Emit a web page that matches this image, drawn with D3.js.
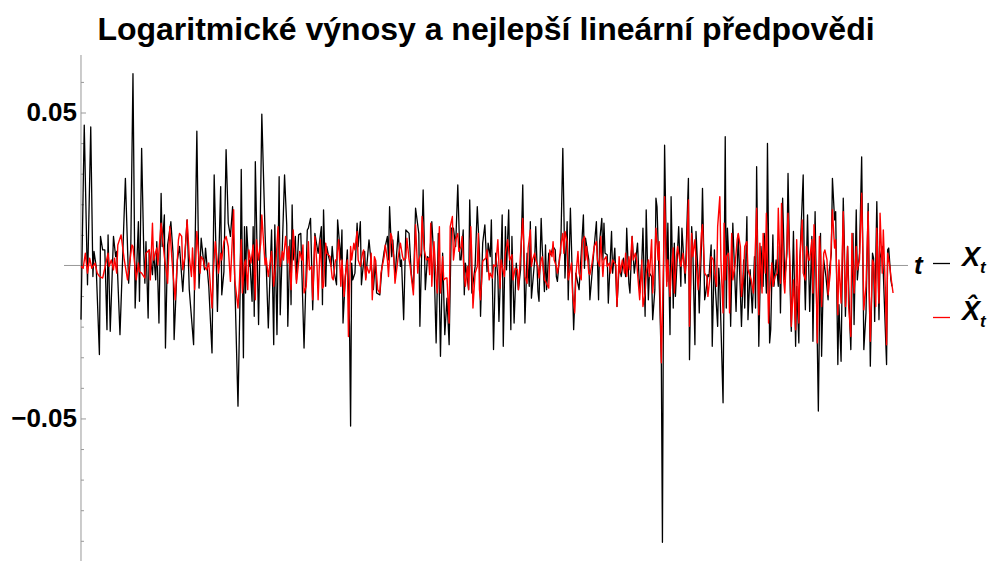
<!DOCTYPE html>
<html>
<head>
<meta charset="utf-8">
<script src="https://cdn.jsdelivr.net/npm/d3@7"></script>
<style>
  body { margin: 0; background: #fff; }
  svg { display: block; }
</style>
</head>
<body>
<svg id="chart" width="994" height="563"></svg>
<script>
// day index of each point and its log return
var tX = [0,3,6,9,11,12,14,17,18,20,22,24,25,27,30,32,33,36,41,44,46,48,50,53,54,56,58,59,60,62,63,66,67,69,70,72,74,75,77,78,80,83,85,86,89,91,94,96,98,100,104,107,109,111,114,115,118,121,123,126,129,130,132,134,136,138,140,142,145,147,148,150,151,152,153,155,156,158,159,160,161,164,165,167,170,171,173,175,176,178,179,181,183,184,188,190,191,193,194,195,196,198,199,201,203,206,209,210,212,214,216,219,222,223,224,226,227,229,231,232,234,236,237,240,241,242,244,246,248,249,250,251,253,255,256,258,259,260,262,263,266,268,270,272,273,276,278,280,281,283,284,285,287,288,290,293,295,296,298,300,303,305,307,309,312,313,316,318,320,322,324,326,328,330,332,334,336,338,340,342,344,346,348,350,351,353,354,355,358,359,361,364,366,368,369,371,373,375,376,378,379,381,383,385,386,388,389,390,392,393,395,397,398,400,402,404,406,408,410,412,414,415,416,419,420,422,423,425,426,428,429,430,432,434,436,438,439,440,442,443,445,447,449,450,452,453,455,457,460,462,464,465,466,469,470,472,474,476,478,479,481,482,483,484,486,487,490,491,493,495,497,499,501,503,504,506,507,509,511,513,514,516,518,519,521,522,524,525,527,528,530,531,532,534,536,537,538,539,541,542,544,545,547,548,549,550,552,554,555,558,559,561,562,564,565,567,568,570,571,573,574,576,577,579,580,582,583,585,586,588,589,590,593,595,596,597,599,600,602,605,607,609,610,612,613,615,616,618,620,622,623,624,626,628,630,631,633,634,636,637,639,640,642,644,645,646,648,650,652,653,655,656,658,660,661,663,664,667,668,669,671,673,675,676,678,679,680,681,683,684,686,688,690,691,693,694,696,697,699,700,702,704,705,706,708,710,711,713,714,716,717,719,721,722,723,725,727,728,729,731,732,733,735,737,738,740,741,744,745,746,748,749];
var X = [-0.0177,0.0459,-0.0063,0.0453,-0.0036,0.0046,-0.0003,-0.0291,0.0095,0.0051,0.0051,-0.0210,0.0100,-0.0215,0.0095,0.0029,0.0046,-0.0226,0.0285,-0.0058,0.0062,0.0627,-0.0139,0.0143,-0.0117,0.0383,0.0040,-0.0058,0.0078,-0.0172,0.0051,-0.0030,0.0046,-0.0047,0.0078,-0.0188,0.0236,0.0062,0.0165,-0.0270,0.0067,0.0143,0.0040,-0.0242,0.0018,0.0062,-0.0085,0.0040,0.0149,-0.0079,-0.0259,0.0439,-0.0074,0.0089,-0.0014,0.0057,-0.0068,-0.0286,0.0296,-0.0150,0.0258,-0.0096,-0.0020,0.0379,0.0138,0.0095,0.0192,-0.0047,-0.0460,-0.0079,0.0314,-0.0302,0.0127,-0.0090,0.0127,-0.0003,0.0018,-0.0117,0.0127,-0.0166,0.0339,-0.0193,0.0008,0.0495,0.0105,0.0008,-0.0204,0.0018,0.0116,-0.0259,0.0133,-0.0226,0.0290,-0.0161,0.0296,0.0133,-0.0199,0.0084,-0.0128,0.0198,0.0018,0.0095,-0.0047,0.0100,0.0105,-0.0270,0.0116,0.0122,0.0154,-0.0145,0.0105,0.0040,0.0127,-0.0128,0.0182,-0.0068,0.0062,0.0024,-0.0003,0.0062,-0.0025,-0.0063,0.0149,0.0018,0.0116,-0.0188,-0.0047,0.0051,-0.0199,-0.0525,0.0008,-0.0047,-0.0025,0.0138,0.0062,0.0143,-0.0063,-0.0025,0.0046,-0.0041,0.0084,0.0008,-0.0079,0.0018,-0.0090,-0.0096,-0.0003,0.0046,0.0062,0.0095,0.0018,0.0192,0.0029,0.0084,-0.0036,0.0111,-0.0003,0.0018,-0.0177,0.0116,0.0105,-0.0025,-0.0079,0.0187,0.0105,-0.0199,0.0247,-0.0079,0.0029,0.0018,0.0143,0.0018,-0.0253,0.0105,-0.0297,0.0040,-0.0226,-0.0107,-0.0259,0.0122,0.0122,0.0062,0.0263,0.0018,0.0018,0.0116,-0.0096,0.0008,-0.0079,0.0214,-0.0090,-0.0003,0.0192,0.0040,-0.0166,0.0073,0.0133,-0.0020,0.0073,0.0029,0.0149,-0.0275,0.0040,-0.0036,-0.0183,0.0029,0.0165,-0.0264,0.0127,-0.0014,0.0182,-0.0210,0.0095,-0.0188,0.0008,-0.0079,-0.0014,0.0263,-0.0188,0.0040,-0.0068,0.0143,-0.0107,0.0018,0.0127,-0.0085,-0.0117,0.0154,0.0057,-0.0085,0.0067,-0.0079,0.0040,0.0035,0.0062,0.0051,-0.0036,-0.0052,0.0029,0.0040,0.0383,-0.0041,0.0143,-0.0112,0.0187,0.0062,-0.0210,-0.0025,-0.0079,0.0040,0.0165,-0.0009,0.0089,0.0018,-0.0112,-0.0025,0.0062,0.0143,-0.0112,0.0078,0.0154,0.0018,0.0138,0.0040,0.0035,-0.0123,0.0111,-0.0025,0.0057,-0.0134,-0.0003,-0.0036,0.0024,-0.0036,0.0122,-0.0058,-0.0090,0.0095,-0.0025,0.0040,0.0073,-0.0090,0.0018,0.0122,-0.0166,0.0182,-0.0112,-0.0025,-0.0036,-0.0177,-0.0079,0.0220,0.0192,-0.0047,-0.0324,-0.0905,-0.0052,0.0393,-0.0052,0.0138,-0.0226,0.0225,-0.0139,0.0073,-0.0101,-0.0025,0.0127,-0.0068,0.0122,-0.0058,0.0062,0.0285,-0.0308,0.0127,0.0062,-0.0259,0.0111,-0.0036,-0.0155,0.0062,0.0252,-0.0112,-0.0090,-0.0030,-0.0036,0.0067,-0.0264,0.0051,-0.0079,-0.0199,-0.0009,-0.0063,-0.0449,0.0421,-0.0139,0.0122,-0.0025,-0.0199,0.0138,-0.0150,0.0100,-0.0090,-0.0199,0.0018,-0.0139,0.0160,-0.0177,-0.0014,-0.0155,0.0029,-0.0139,0.0323,-0.0264,0.0062,-0.0068,0.0105,-0.0090,0.0399,-0.0253,-0.0210,0.0100,-0.0068,0.0018,-0.0068,0.0062,-0.0155,0.0220,-0.0047,0.0040,0.0301,-0.0079,-0.0215,0.0111,-0.0264,-0.0068,-0.0253,0.0024,0.0296,-0.0003,-0.0145,0.0165,-0.0150,0.0095,-0.0248,0.0176,-0.0047,-0.0248,-0.0476,0.0105,-0.0297,0.0018,-0.0036,-0.0112,-0.0020,0.0040,0.0285,0.0149,0.0176,-0.0324,-0.0128,-0.0313,0.0220,0.0073,-0.0166,0.0062,-0.0188,-0.0275,0.0105,-0.0193,0.0182,-0.0047,0.0040,0.0355,0.0062,-0.0275,-0.0155,0.0203,-0.0068,-0.0329,0.0040,0.0024,-0.0183,0.0209,-0.0177,0.0024,0.0062,-0.0025,-0.0324,0.0051,0.0057,-0.0047,-0.0068];

// best linear predictions
var tHat = [0,2,4,6,8,10,13,15,17,20,22,25,26,28,30,31,33,34,37,40,43,47,48,51,53,54,56,59,60,63,64,66,67,70,71,74,77,79,80,82,84,87,90,91,93,94,96,98,100,102,103,105,107,110,111,113,114,116,118,121,122,124,127,129,130,132,134,136,138,141,142,145,146,148,149,151,152,154,155,157,159,161,162,164,166,167,170,171,173,175,176,178,180,182,184,186,187,189,191,192,194,196,199,202,204,205,206,208,210,211,213,214,216,218,219,221,223,224,226,227,230,232,233,235,236,238,240,241,243,244,246,247,249,250,252,253,255,256,258,260,261,263,264,266,267,268,269,271,272,274,276,277,280,281,283,284,286,287,289,290,293,295,297,298,300,301,303,304,307,309,311,312,314,315,317,319,321,322,323,324,326,328,329,331,332,334,335,337,338,340,341,343,344,346,348,349,351,352,354,355,357,358,360,361,362,364,366,367,368,369,371,372,374,375,377,378,380,381,383,385,387,388,389,391,392,394,396,398,399,401,403,404,406,408,410,412,413,415,416,417,419,420,422,423,425,426,428,429,432,433,435,436,437,439,440,442,443,445,446,447,449,450,453,454,456,457,459,460,462,463,465,466,467,469,470,472,474,476,477,479,480,482,483,485,486,488,489,491,494,495,497,498,500,502,503,504,506,507,509,510,512,513,514,516,518,519,521,522,524,525,527,528,530,531,533,534,536,538,539,541,542,544,545,547,548,550,551,553,554,556,558,559,561,562,564,565,567,568,570,571,573,574,576,578,579,581,582,584,585,587,588,590,591,593,594,595,596,598,599,601,602,604,606,607,609,610,612,613,615,616,618,619,621,622,624,626,627,629,630,632,633,635,636,638,639,641,643,644,646,647,649,650,652,653,655,656,658,660,661,663,664,666,667,669,670,672,673,675,676,677,679,680,682,683,684,686,687,689,690,692,694,696,697,699,700,702,704,705,706,708,709,711,712,714,716,717,719,721,722,723,725,727,728,729,731,732,734,735,737,738,740,741,743,744,745,747,748,750];
var Xhat = [-0.0003,-0.0009,0.0040,-0.0025,0.0024,-0.0009,0.0008,-0.0025,-0.0036,-0.0041,-0.0009,0.0040,-0.0003,0.0018,-0.0014,0.0024,-0.0025,0.0067,0.0100,0.0018,-0.0047,0.0067,0.0062,-0.0047,0.0008,-0.0020,-0.0025,-0.0041,0.0040,0.0051,-0.0047,0.0138,0.0018,0.0057,0.0002,0.0138,0.0029,-0.0025,-0.0058,0.0127,0.0018,-0.0112,0.0084,0.0105,0.0095,-0.0014,0.0029,0.0149,0.0029,-0.0036,0.0057,-0.0079,0.0111,-0.0025,0.0029,0.0018,-0.0003,-0.0014,0.0008,-0.0139,-0.0036,0.0078,-0.0025,0.0040,0.0018,0.0078,0.0095,0.0062,-0.0052,0.0182,-0.0047,-0.0139,-0.0079,0.0084,-0.0090,0.0008,0.0018,-0.0079,0.0051,0.0008,0.0067,-0.0112,0.0084,0.0018,0.0073,0.0165,0.0002,0.0024,-0.0036,0.0018,0.0046,-0.0068,0.0008,0.0127,-0.0003,0.0046,0.0018,0.0095,0.0008,0.0062,-0.0079,0.0116,-0.0058,0.0046,0.0018,0.0067,-0.0090,-0.0068,0.0078,-0.0014,-0.0003,-0.0112,0.0095,-0.0003,-0.0112,0.0084,-0.0074,-0.0068,0.0073,0.0040,0.0029,-0.0041,-0.0047,0.0018,0.0018,0.0084,-0.0068,0.0018,-0.0101,-0.0036,0.0018,-0.0232,0.0062,0.0018,0.0073,0.0051,0.0111,0.0018,-0.0003,0.0040,0.0051,-0.0047,-0.0003,-0.0025,-0.0014,0.0040,-0.0112,0.0029,0.0018,-0.0079,-0.0090,-0.0025,0.0029,0.0067,0.0018,-0.0036,0.0105,0.0095,0.0018,-0.0058,0.0029,0.0073,0.0029,0.0018,0.0024,0.0089,0.0018,-0.0003,-0.0096,0.0133,-0.0025,0.0018,0.0040,0.0160,0.0051,0.0018,0.0024,-0.0030,0.0138,-0.0068,0.0078,-0.0047,-0.0090,0.0127,-0.0090,0.0029,-0.0047,-0.0041,-0.0041,-0.0188,0.0127,0.0160,0.0018,0.0084,0.0105,0.0046,0.0062,0.0095,-0.0036,-0.0068,-0.0003,-0.0079,0.0127,0.0018,-0.0139,-0.0025,-0.0003,0.0105,-0.0079,-0.0112,0.0013,0.0018,0.0024,0.0051,-0.0047,-0.0025,-0.0041,0.0002,-0.0003,0.0084,-0.0074,0.0018,-0.0003,-0.0036,0.0040,0.0084,0.0018,0.0035,-0.0047,-0.0009,-0.0014,-0.0079,0.0040,0.0154,-0.0036,-0.0058,0.0057,0.0116,-0.0003,0.0018,0.0040,0.0018,-0.0003,-0.0041,0.0018,0.0029,-0.0047,-0.0052,-0.0074,0.0051,0.0029,0.0078,0.0018,-0.0003,-0.0025,0.0018,0.0062,0.0105,0.0040,0.0111,0.0078,-0.0047,0.0008,-0.0090,-0.0155,-0.0036,0.0046,-0.0025,-0.0047,0.0078,0.0095,0.0018,0.0062,-0.0025,-0.0030,0.0008,0.0062,0.0078,0.0018,-0.0003,0.0095,-0.0036,0.0018,0.0029,-0.0003,0.0008,-0.0025,0.0018,0.0002,-0.0134,0.0029,-0.0025,0.0018,-0.0025,0.0040,-0.0036,0.0029,-0.0014,0.0095,0.0018,0.0040,0.0024,-0.0025,-0.0112,0.0018,-0.0134,-0.0090,-0.0025,0.0018,-0.0036,0.0084,-0.0090,0.0018,0.0122,0.0018,0.0078,-0.0318,0.0018,0.0225,-0.0068,0.0018,-0.0101,-0.0025,0.0057,-0.0090,0.0029,0.0062,0.0018,-0.0003,0.0040,-0.0025,0.0008,0.0214,-0.0199,0.0105,0.0029,0.0084,0.0018,-0.0079,-0.0036,0.0105,0.0133,-0.0025,-0.0036,-0.0101,-0.0036,0.0029,0.0018,-0.0025,-0.0068,0.0127,0.0225,0.0018,-0.0155,0.0138,-0.0047,0.0029,0.0040,-0.0155,0.0105,-0.0047,-0.0003,0.0084,0.0105,0.0062,-0.0101,-0.0025,0.0062,0.0078,-0.0014,-0.0036,-0.0047,-0.0090,-0.0025,0.0187,-0.0161,0.0073,-0.0090,0.0105,-0.0025,0.0171,-0.0188,-0.0090,0.0008,-0.0068,-0.0036,-0.0025,0.0187,-0.0058,0.0203,-0.0047,-0.0090,0.0073,0.0171,-0.0025,-0.0199,-0.0047,-0.0210,0.0084,-0.0188,0.0018,0.0149,-0.0025,-0.0047,0.0062,0.0018,0.0018,0.0084,-0.0090,0.0133,-0.0047,-0.0253,0.0095,0.0040,-0.0134,0.0040,0.0051,0.0018,-0.0096,-0.0025,0.0182,0.0057,0.0084,-0.0161,0.0018,-0.0123,0.0176,0.0018,-0.0134,0.0062,-0.0134,-0.0232,0.0105,-0.0090,0.0062,-0.0014,0.0018,0.0236,0.0062,-0.0145,-0.0068,0.0176,-0.0090,-0.0248,0.0018,0.0008,-0.0134,0.0122,-0.0123,0.0171,-0.0025,0.0116,-0.0090,-0.0259,0.0040,-0.0003,-0.0036,-0.0090];

var majorTicks = [-0.05, 0.05];
var minorTicks = [-0.09, -0.08, -0.07, -0.06, -0.04, -0.03, -0.02, -0.01, 0.01, 0.02, 0.03, 0.04, 0.06];

var titleText = "Logaritmické výnosy a nejlepší lineární předpovědi";

var svg = d3.select("#chart");
var font = "'Liberation Sans', Arial, sans-serif";

var x = d3.scaleLinear().domain([-15.7, 763.8]).range([64, 908]);
var y = d3.scaleLinear().domain([-0.0966, 0.0688]).range([561, 55]);

var seriesX = tX.map(function(t, i) { return {t: t, v: X[i]}; });
var seriesHat = tHat.map(function(t, i) { return {t: t, v: Xhat[i]}; });

// axes
svg.append("line")
  .attr("x1", x(-15.7)).attr("x2", x(763.8))
  .attr("y1", y(0)).attr("y2", y(0))
  .attr("stroke", "#999").attr("stroke-width", 1);
svg.append("line")
  .attr("x1", x(0)).attr("x2", x(0))
  .attr("y1", y(0.0688)).attr("y2", y(-0.0966))
  .attr("stroke", "#999").attr("stroke-width", 1);

var minorAxis = d3.axisLeft(y).tickValues(minorTicks).tickSize(-3).tickFormat("");
svg.append("g").attr("transform", "translate(" + x(0) + ",0)").call(minorAxis)
  .call(function(g) { g.select(".domain").remove(); g.selectAll("line").attr("stroke", "#999"); });

var majorAxis = d3.axisLeft(y).tickValues(majorTicks).tickSize(-5).tickPadding(4)
  .tickFormat(d3.format(".2f"));
svg.append("g").attr("transform", "translate(" + x(0) + ",0)").call(majorAxis)
  .call(function(g) {
    g.select(".domain").remove();
    g.selectAll("line").attr("stroke", "#999");
    g.selectAll("text").attr("font-family", font).attr("font-weight", "bold")
      .attr("font-size", 26).attr("fill", "#000");
  });

// series
var line = d3.line().x(function(d) { return x(d.t); }).y(function(d) { return y(d.v); });
svg.append("path").datum(seriesX).attr("d", line)
  .attr("fill", "none").attr("stroke", "#000").attr("stroke-width", 1.3).attr("stroke-linejoin", "round");
svg.append("path").datum(seriesHat).attr("d", line)
  .attr("fill", "none").attr("stroke", "#ff0000").attr("stroke-width", 1.4).attr("stroke-linejoin", "round");

// title
svg.append("text").attr("x", 486).attr("y", 40).attr("text-anchor", "middle")
  .attr("font-family", font).attr("font-weight", "bold").attr("font-size", 32)
  .text(titleText);

// axis label t
svg.append("text").attr("x", 914).attr("y", 274)
  .attr("font-family", font).attr("font-weight", "bold").attr("font-style", "italic")
  .attr("font-size", 26).text("t");

// legend
var legend = [
  {color: "#000", label: "X", y: 263.5},
  {color: "#ff0000", label: "X\u0302", y: 317.5}
];
legend.forEach(function(d) {
  svg.append("line").attr("x1", 933).attr("x2", 950).attr("y1", d.y).attr("y2", d.y)
    .attr("stroke", d.color).attr("stroke-width", 1.3);
  var tx = svg.append("text").attr("x", 962).attr("y", d.y + 2.5)
    .attr("font-family", font).attr("font-weight", "bold").attr("font-style", "italic")
    .attr("font-size", 27);
  tx.append("tspan").text(d.label);
  tx.append("tspan").attr("font-size", 17).attr("dy", 7).text("t");
});
</script>
</body>
</html>
